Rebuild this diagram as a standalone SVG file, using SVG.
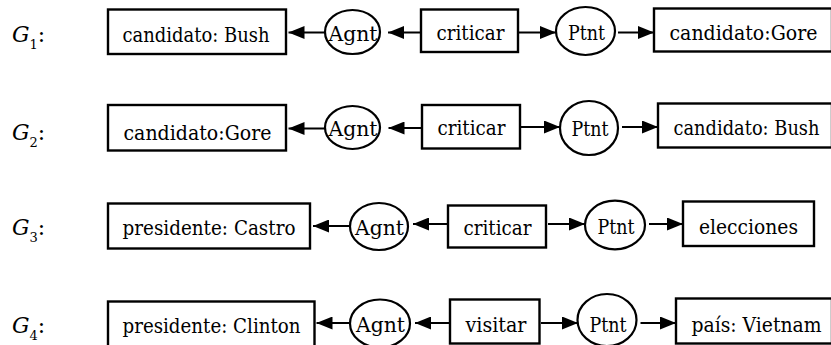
<svg xmlns="http://www.w3.org/2000/svg" width="831" height="345" viewBox="0 0 831 345">
  <style>
    text { font-family: 'DejaVu Serif', 'Liberation Serif', serif; font-size: 21px; fill: #000; }
    .lbl { text-anchor: start; font-size: 22px; }
    .c { text-anchor: middle; }
    .concept { fill: #fff; stroke: #000; stroke-width: 2.4; }
    .rel { fill: #fff; stroke: #000; stroke-width: 2.2; }
    .edge { stroke: #000; stroke-width: 2.2; fill: none; marker-end: url(#arrow); }
  </style>
  <defs>
    <marker id="arrow" markerUnits="userSpaceOnUse" markerWidth="16" markerHeight="13" refX="16" refY="6.5" orient="auto">
      <path d="M0,0 L16,6.5 L0,13 z" fill="#000"/>
    </marker>
  </defs>
  <rect width="831" height="345" fill="#fff"/>

  <!-- graph labels -->
  <g id="labels">
    <text class="lbl" x="12" y="41.5"><tspan font-style="italic">G</tspan><tspan font-size="13" dy="7">1</tspan><tspan dy="-7">:</tspan></text>
    <text class="lbl" x="12" y="140"><tspan font-style="italic">G</tspan><tspan font-size="13" dy="7">2</tspan><tspan dy="-7">:</tspan></text>
    <text class="lbl" x="12" y="235"><tspan font-style="italic">G</tspan><tspan font-size="13" dy="7">3</tspan><tspan dy="-7">:</tspan></text>
    <text class="lbl" x="12" y="333"><tspan font-style="italic">G</tspan><tspan font-size="13" dy="7">4</tspan><tspan dy="-7">:</tspan></text>
  </g>

  <!-- connectors -->
  <g id="edges">
    <line class="edge" x1="325" y1="32.5" x2="288.5" y2="32.5"/>
    <line class="edge" x1="421" y1="32.5" x2="388" y2="32.5"/>
    <line class="edge" x1="518" y1="32.5" x2="556" y2="32.5"/>
    <line class="edge" x1="618" y1="32.5" x2="654" y2="32.5"/>

    <line class="edge" x1="325" y1="128.5" x2="288.5" y2="128.5"/>
    <line class="edge" x1="422" y1="128" x2="388.5" y2="128"/>
    <line class="edge" x1="520" y1="127" x2="560" y2="127"/>
    <line class="edge" x1="622" y1="127" x2="658" y2="127"/>

    <line class="edge" x1="350" y1="226" x2="313" y2="226"/>
    <line class="edge" x1="448" y1="224" x2="413" y2="224"/>
    <line class="edge" x1="548" y1="224" x2="585" y2="224"/>
    <line class="edge" x1="649" y1="224" x2="683" y2="224"/>

    <line class="edge" x1="350" y1="323" x2="316.5" y2="323"/>
    <line class="edge" x1="450" y1="323" x2="415" y2="323"/>
    <line class="edge" x1="541" y1="323" x2="578" y2="323"/>
    <line class="edge" x1="640.5" y1="323" x2="676" y2="323"/>
  </g>

  <!-- G1 -->
  <g id="g1-bush">
    <rect class="concept" x="108" y="9.5" width="178" height="44.5"/>
    <text class="c" x="196" y="41.5" textLength="147" lengthAdjust="spacingAndGlyphs">candidato: Bush</text>
  </g>
  <g id="g1-agnt">
    <ellipse class="rel" cx="352.5" cy="32" rx="27.5" ry="22"/>
    <text class="c" x="353" y="40.5" textLength="49" lengthAdjust="spacingAndGlyphs">Agnt</text>
  </g>
  <g id="g1-criticar">
    <rect class="concept" x="421" y="9.5" width="97" height="42.5"/>
    <text class="c" x="470.5" y="40" textLength="68" lengthAdjust="spacingAndGlyphs">criticar</text>
  </g>
  <g id="g1-ptnt">
    <ellipse class="rel" cx="585.5" cy="31" rx="29.5" ry="24"/>
    <text class="c" x="586.5" y="40" textLength="37" lengthAdjust="spacingAndGlyphs">Ptnt</text>
  </g>
  <g id="g1-gore">
    <rect class="concept" x="654" y="8.5" width="178" height="43"/>
    <text class="c" x="743.5" y="40" textLength="148" lengthAdjust="spacingAndGlyphs">candidato:Gore</text>
  </g>

  <!-- G2 -->
  <g id="g2-gore">
    <rect class="concept" x="108" y="105" width="178" height="45.5"/>
    <text class="c" x="197.5" y="139.5" textLength="148" lengthAdjust="spacingAndGlyphs">candidato:Gore</text>
  </g>
  <g id="g2-agnt">
    <ellipse class="rel" cx="352.5" cy="127.5" rx="27.5" ry="21.5"/>
    <text class="c" x="353" y="136" textLength="49" lengthAdjust="spacingAndGlyphs">Agnt</text>
  </g>
  <g id="g2-criticar">
    <rect class="concept" x="422" y="105" width="98" height="43.5"/>
    <text class="c" x="471.5" y="135" textLength="68" lengthAdjust="spacingAndGlyphs">criticar</text>
  </g>
  <g id="g2-ptnt">
    <ellipse class="rel" cx="589" cy="128" rx="29" ry="27"/>
    <text class="c" x="590" y="135.5" textLength="37" lengthAdjust="spacingAndGlyphs">Ptnt</text>
  </g>
  <g id="g2-bush">
    <rect class="concept" x="658" y="103.5" width="174" height="44"/>
    <text class="c" x="746.5" y="135" textLength="146" lengthAdjust="spacingAndGlyphs">candidato: Bush</text>
  </g>

  <!-- G3 -->
  <g id="g3-castro">
    <rect class="concept" x="108" y="203.5" width="202" height="45"/>
    <text class="c" x="209" y="235" textLength="173" lengthAdjust="spacingAndGlyphs">presidente: Castro</text>
  </g>
  <g id="g3-agnt">
    <ellipse class="rel" cx="379" cy="226.5" rx="29" ry="23.5"/>
    <text class="c" x="379.5" y="235" textLength="49" lengthAdjust="spacingAndGlyphs">Agnt</text>
  </g>
  <g id="g3-criticar">
    <rect class="concept" x="448" y="205.5" width="98" height="42"/>
    <text class="c" x="497.5" y="235" textLength="68" lengthAdjust="spacingAndGlyphs">criticar</text>
  </g>
  <g id="g3-ptnt">
    <ellipse class="rel" cx="615" cy="225" rx="30" ry="24.3"/>
    <text class="c" x="616" y="233.5" textLength="37" lengthAdjust="spacingAndGlyphs">Ptnt</text>
  </g>
  <g id="g3-elecciones">
    <rect class="concept" x="683" y="201.5" width="131" height="44.5"/>
    <text class="c" x="748.5" y="233.5" textLength="99" lengthAdjust="spacingAndGlyphs">elecciones</text>
  </g>

  <!-- G4 -->
  <g id="g4-clinton">
    <rect class="concept" x="108" y="301.5" width="206.5" height="45"/>
    <text class="c" x="211.5" y="333" textLength="178" lengthAdjust="spacingAndGlyphs">presidente: Clinton</text>
  </g>
  <g id="g4-agnt">
    <ellipse class="rel" cx="380" cy="323.5" rx="30" ry="24"/>
    <text class="c" x="380.5" y="332" textLength="49" lengthAdjust="spacingAndGlyphs">Agnt</text>
  </g>
  <g id="g4-visitar">
    <rect class="concept" x="450" y="299.5" width="89.5" height="44"/>
    <text class="c" x="496" y="332" textLength="61" lengthAdjust="spacingAndGlyphs">visitar</text>
  </g>
  <g id="g4-ptnt">
    <ellipse class="rel" cx="607" cy="320" rx="29.5" ry="26"/>
    <text class="c" x="608" y="331.5" textLength="37" lengthAdjust="spacingAndGlyphs">Ptnt</text>
  </g>
  <g id="g4-vietnam">
    <rect class="concept" x="676" y="298.5" width="156" height="45"/>
    <text class="c" x="756.5" y="332" textLength="130" lengthAdjust="spacingAndGlyphs">país: Vietnam</text>
  </g>
</svg>
